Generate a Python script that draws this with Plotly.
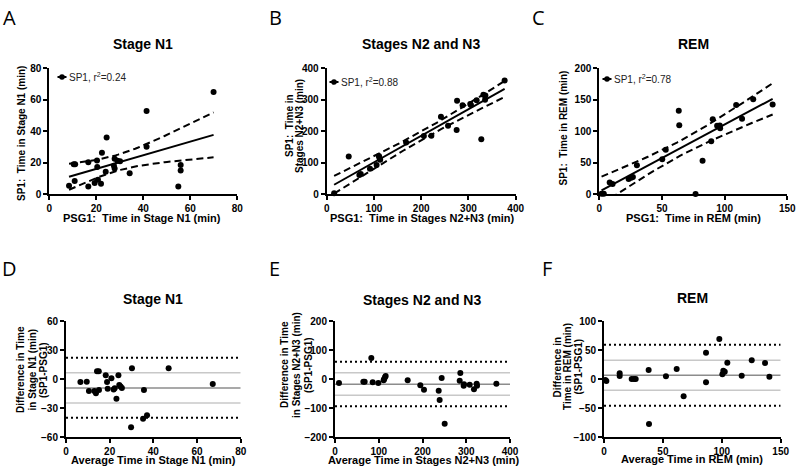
import numpy as np
import plotly.graph_objects as go

W, H = 800, 470

# ---------------- data ----------------
# Panel A: Stage N1 (PSG1 vs SP1)
a_psg = [8.4, 10.4, 10.8, 11.0, 16.6, 16.6, 19.3, 20.3, 20.4, 20.7, 22.0, 22.4, 24.0,
         24.4, 27.5, 27.8, 27.8, 29.0, 30.1, 34.2, 41.4, 41.4, 54.9, 55.9, 55.9, 69.9]
a_sp = [5.3, 18.9, 8.3, 19.0, 4.7, 20.2, 7.0, 21.4, 17.2, 9.1, 6.6, 26.3, 14.2,
        35.9, 18.0, 22.5, 16.3, 21.2, 20.8, 13.2, 52.8, 30.1, 4.7, 18.5, 14.9, 64.9]
# Panel B: Stages N2+N3
b_psg = [15.7, 46.6, 69.1, 72.1, 91.6, 105.6, 110.4, 111.2, 112.3, 113.2, 168.1, 205.6, 221.5,
         241.8, 256.8, 275.0, 275.9, 287.6, 303.8, 305.3, 317.3, 327.2, 331.6, 335.2, 335.8, 376.6]
b_sp = [2.5, 119.4, 60.5, 63.5, 80.7, 92.4, 121.3, 117.5, 111.7, 109.2, 164.1, 184.4, 185.4,
        245.8, 217.3, 203.4, 297.1, 282.4, 286.0, 283.0, 298.4, 174.2, 316.0, 300.2, 313.5, 361.0]
# Panel C: REM
c_psg = [1.8, 3.6, 8.3, 10.6, 23.4, 25.4, 26.8, 30.0, 76.8, 50.2, 53.0, 82.4, 63.8,
         89.3, 63.4, 96.4, 94.0, 96.1, 90.5, 113.9, 109.2, 122.8, 138.3]
c_sp = [0.4, 0.4, 18.3, 16.0, 23.7, 25.7, 27.1, 45.8, 0.0, 55.1, 70.5, 52.9, 109.4,
        83.9, 132.5, 104.7, 108.6, 109.0, 118.9, 119.9, 141.6, 150.6, 142.6]
r2_labels = ["0.24", "0.88", "0.78"]

# Panel D: Bland-Altman Stage N1
d_avg = [6.6, 9.5, 10.5, 13.0, 13.7, 14.2, 15.0, 15.1, 18.2, 18.8, 19.1, 20.8, 21.8,
         22.3, 23.1, 24.0, 24.4, 25.0, 25.6, 30.2, 29.8, 35.3, 35.7, 37.1, 47.0, 67.2]
d_diff = [-2.9, -2.6, -12.2, -12.2, -14.6, 8.1, 8.1, -11.2, 3.9, -2.9, -9.8, 0.9, -10.8,
          -9.5, -20.1, 3.9, -6.0, -7.7, -9.1, 11.2, -49.7, -40.8, -11.2, -37.3, 11.2, -5.0]
d_mean, d_sd, d_loa = -9.1, [6.7, -24.6], [22.2, -39.7]
# Panel E: Bland-Altman Stages N2+N3
e_avg = [9.1, 64.8, 67.8, 83.0, 86.1, 99.0, 111.2, 112.0, 114.3, 115.8, 166.1, 195.0, 203.4,
         237.0, 239.2, 243.8, 250.7, 285.0, 286.5, 294.1, 294.9, 307.8, 317.7, 323.8, 324.6, 368.8]
e_diff = [-13.2, -8.6, -8.6, 72.8, -10.9, -13.2, -4.0, -0.6, 6.3, 10.9, -4.0, -21.2, -36.1,
          -39.5, -71.6, 4.0, -153.0, -5.2, 21.2, -22.3, -17.8, -18.9, -35.0, -15.5, -22.3, -15.5]
e_mean, e_sd, e_loa = -17.8, [22.3, -55.6], [60.2, -93.4]
# Panel F: Bland-Altman REM
f_avg = [1.1, 2.0, 13.3, 13.3, 23.5, 25.5, 26.9, 37.9, 38.2, 52.6, 61.7, 67.6, 86.6,
         86.6, 97.9, 100.5, 101.3, 102.5, 104.7, 116.9, 125.4, 136.7, 140.4]
f_diff = [-1.4, -3.2, 10.0, 5.4, 0.3, 0.3, 0.3, 15.8, -77.1, 4.9, 17.5, -29.5, 45.6,
          -5.4, 69.1, 8.3, 14.6, 12.9, 28.4, 6.0, 32.4, 27.8, 4.3]
f_mean, f_sd, f_loa = 6.6, [32.4, -19.2], [59.3, -45.6]

titles = ["Stage N1", "Stages N2 and N3", "REM", "Stage N1", "Stages N2 and N3", "REM"]
letters = ["A", "B", "C", "D", "E", "F"]
xtitles = ["PSG1:\u00a0 Time in Stage N1 (min)", "PSG1:\u00a0 Time in Stages N2+N3 (min)",
           "PSG1:\u00a0 Time in REM (min)", "Average Time in Stage N1 (min)",
           "Average Time in Stages N2+N3 (min)", "Average Time in REM (min)"]
ytitles = [["SP1:\u00a0 Time in Stage N1 (min)"],
           ["SP1:\u00a0 Time in", "Stages N2+N3 (min)"],
           ["SP1:\u00a0 Time in REM (min)"],
           ["Difference in Time", "in Stage N1 (min)", "(SP1-PSG1)"],
           ["Difference in Time", "in Stages N2+N3 (min)", "(SP1-PSG1)"],
           ["Difference in", "Time in REM (min)", "(SP1-PSG1)"]]
xranges = [[0, 80], [0, 400], [0, 150], [0, 80], [0, 400], [0, 150]]
yranges = [[0, 80], [0, 400], [0, 200], [-60, 60], [-200, 200], [-100, 100]]
xdticks = [20, 100, 50, 20, 100, 50]
ydticks = [20, 100, 50, 30, 100, 50]

# ---------------- layout geometry (pixels) ----------------
boxes = [(49.3, 237.3, 68.3, 194.0), (326.7, 515.7, 68.3, 194.0), (599.3, 787.3, 68.3, 194.0),
         (66.0, 240.7, 321.0, 437.3), (335.0, 510.0, 321.0, 437.3), (604.0, 780.7, 321.0, 437.3)]
letter_pos = [(9, 18), (275, 18), (538, 18), (9, 268), (274, 268), (547, 268)]
title_y = [44, 44, 44, 299, 300, 298]
xtitle_pos = [(142, 218), (422, 218), (693, 218), (153, 460), (423, 460), (692, 459)]
ytitle_pos = [(21, 134), (294, 126), (563.5, 128), (31.5, 370), (296, 365), (567, 367)]
ytitle_gap = [0, 10, 0, 11.5, 12, 10.5]
legend_pos = [(62, 77), (334, 82), (607, 79)]

def px(x):
    return x / W

def py(y):
    return 1 - y / H

FONT = "Liberation Sans, Arial, sans-serif"
fig = go.Figure()

def tq(df):
    z = 1.959964
    return z + (z**3 + z) / (4 * df) + (5 * z**5 + 16 * z**3 + 3 * z) / (96 * df**2)

def fit_band(x, y):
    x = np.asarray(x, float)
    y = np.asarray(y, float)
    n = len(x)
    xm, ym = x.mean(), y.mean()
    sxx = ((x - xm) ** 2).sum()
    b = ((x - xm) * (y - ym)).sum() / sxx
    a = ym - b * xm
    s = np.sqrt(((y - (a + b * x)) ** 2).sum() / (n - 2))
    xs = np.linspace(x.min(), x.max(), 60)
    yh = a + b * xs
    se = s * np.sqrt(1 / n + (xs - xm) ** 2 / sxx)
    t = tq(n - 2)
    return xs, yh, yh + t * se, yh - t * se

scatter_sets = [(a_psg, a_sp), (b_psg, b_sp), (c_psg, c_sp),
                (d_avg, d_diff), (e_avg, e_diff), (f_avg, f_diff)]
ba_lines = [(d_mean, d_sd, d_loa), (e_mean, e_sd, e_loa), (f_mean, f_sd, f_loa)]

for i in range(6):
    xa = "x" if i == 0 else f"x{i+1}"
    ya = "y" if i == 0 else f"y{i+1}"
    xs_, ys_ = scatter_sets[i]
    if i < 3:
        xs, yh, up, lo = fit_band(xs_, ys_)
        for yy, dash in ((up, "7px,4px"), (lo, "7px,4px"), (yh, "solid")):
            fig.add_trace(go.Scatter(x=xs, y=yy, mode="lines", xaxis=xa, yaxis=ya,
                                     line=dict(color="black", width=2, dash=dash),
                                     hoverinfo="skip", showlegend=False))
    else:
        mean, sd, loa = ba_lines[i - 3]
        xr = xranges[i]
        for v in sd:
            fig.add_trace(go.Scatter(x=xr, y=[v, v], mode="lines", xaxis=xa, yaxis=ya,
                                     line=dict(color="#c8c8c8", width=1.5),
                                     hoverinfo="skip", showlegend=False))
        fig.add_trace(go.Scatter(x=xr, y=[mean, mean], mode="lines", xaxis=xa, yaxis=ya,
                                 line=dict(color="#8c8c8c", width=1.5),
                                 hoverinfo="skip", showlegend=False))
        for v in loa:
            fig.add_trace(go.Scatter(x=xr, y=[v, v], mode="lines", xaxis=xa, yaxis=ya,
                                     line=dict(color="black", width=2, dash="2px,3px"),
                                     hoverinfo="skip", showlegend=False))
    fig.add_trace(go.Scatter(x=xs_, y=ys_, mode="markers", xaxis=xa, yaxis=ya,
                             marker=dict(color="black", size=6), cliponaxis=False,
                             showlegend=False))

layout = dict(width=W, height=H, margin=dict(l=0, r=0, t=0, b=0, autoexpand=False),
              paper_bgcolor="white", plot_bgcolor="white", showlegend=False,
              font=dict(family=FONT, color="black"))
annotations = []
shapes = []
for i in range(6):
    l, r, t, b = boxes[i]
    kx = "xaxis" if i == 0 else f"xaxis{i+1}"
    ky = "yaxis" if i == 0 else f"yaxis{i+1}"
    ya = "y" if i == 0 else f"y{i+1}"
    xa = "x" if i == 0 else f"x{i+1}"
    common = dict(showline=True, linecolor="black", linewidth=2, ticks="outside",
                  ticklen=4, tickwidth=1.5, tickcolor="black", showgrid=False,
                  zeroline=False, mirror=False, automargin=False,
                  tickfont=dict(family=FONT, size=10, color="black", weight="bold"))
    layout[kx] = dict(domain=[px(l), px(r)], range=xranges[i], anchor=ya,
                      tick0=0, dtick=xdticks[i], **common)
    layout[ky] = dict(domain=[py(b), py(t)], range=yranges[i], anchor=xa,
                      tick0=0, dtick=ydticks[i], **common)
    annotations.append(dict(x=px(letter_pos[i][0]), y=py(letter_pos[i][1]), xref="paper",
                            yref="paper", text=letters[i], showarrow=False,
                            font=dict(family="Open Sans, Liberation Sans", size=20, color="black"),
                            xanchor="center", yanchor="middle"))
    annotations.append(dict(x=px((l + r) / 2), y=py(title_y[i]), xref="paper", yref="paper",
                            text="<b>" + titles[i] + "</b>", showarrow=False,
                            font=dict(family=FONT, size=14, color="black"),
                            xanchor="center", yanchor="middle"))
    annotations.append(dict(x=px(xtitle_pos[i][0]), y=py(xtitle_pos[i][1]), xref="paper",
                            yref="paper", text="<b>" + xtitles[i] + "</b>", showarrow=False,
                            font=dict(family=FONT, size=11, color="black"),
                            xanchor="center", yanchor="middle"))
    lines = ytitles[i]
    n = len(lines)
    for k, line in enumerate(lines):
        cx = ytitle_pos[i][0] + (k - (n - 1) / 2) * ytitle_gap[i]
        annotations.append(dict(x=px(cx), y=py(ytitle_pos[i][1]), xref="paper",
                                yref="paper", text="<b>" + line + "</b>", showarrow=False,
                                textangle=-90,
                                font=dict(family=FONT, size=10, color="black"),
                                xanchor="center", yanchor="middle"))

for i in range(3):
    cx, cy = legend_pos[i]
    shapes.append(dict(type="line", xref="paper", yref="paper", x0=px(cx - 4.5), x1=px(cx + 4.5),
                       y0=py(cy), y1=py(cy), line=dict(color="black", width=2)))
    shapes.append(dict(type="circle", xref="paper", yref="paper", x0=px(cx - 2.8), x1=px(cx + 2.8),
                       y0=py(cy + 2.8), y1=py(cy - 2.8), fillcolor="black",
                       line=dict(color="black", width=0)))
    annotations.append(dict(x=px(cx + 5), y=py(cy), xref="paper", yref="paper",
                            text="SP1, r<sup>2</sup>=" + r2_labels[i], showarrow=False,
                            font=dict(family=FONT, size=10, color="#222222"),
                            xanchor="left", yanchor="middle"))

layout["annotations"] = annotations
layout["shapes"] = shapes
fig.update_layout(**layout)
fig.write_html("out.html", config={"displayModeBar": False},
               post_script="document.body.style.margin='0';document.body.style.overflow='hidden';")
